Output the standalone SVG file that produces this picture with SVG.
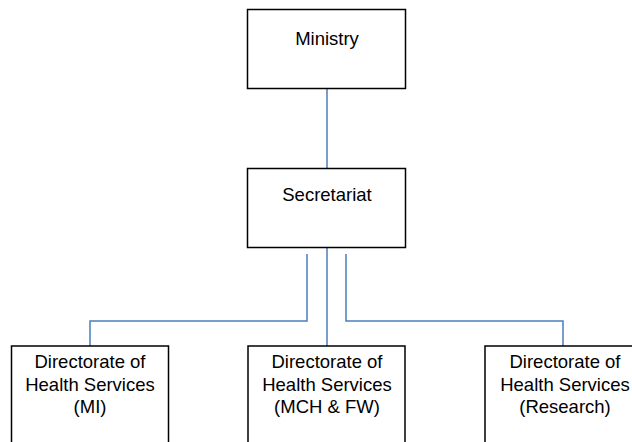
<svg xmlns="http://www.w3.org/2000/svg" width="632" height="442" viewBox="0 0 632 442">
<style>
.box{fill:#fff;stroke:#000;stroke-width:1.5}
.lbl{font-family:"Liberation Sans",Arial,sans-serif;font-size:18.5px;fill:#000;text-anchor:middle}
.con{fill:none;stroke:#4a7ebb;stroke-width:1.5}
</style>
<rect width="632" height="442" fill="#fff"/>
<g id="connectors">
<path class="con" d="M327 88V168"/>
<path class="con" d="M327 247V346"/>
<path class="con" d="M307 254V321H90V346"/>
<path class="con" d="M346 254V321H563V346"/>
</g>
<g id="ministry">
<rect class="box" x="247.5" y="9.5" width="158" height="79"/>
<text class="lbl" x="327" y="45">Ministry</text>
</g>
<g id="secretariat">
<rect class="box" x="247.5" y="168.5" width="158" height="79"/>
<text class="lbl" x="327" y="201">Secretariat</text>
</g>
<g id="dhs-mi">
<rect class="box" x="11.5" y="346" width="157" height="100"/>
<text class="lbl" x="90" y="368">Directorate of</text>
<text class="lbl" x="90" y="390.5">Health Services</text>
<text class="lbl" x="90" y="413">(MI)</text>
</g>
<g id="dhs-mch">
<rect class="box" x="248" y="346" width="157" height="100"/>
<text class="lbl" x="327" y="368">Directorate of</text>
<text class="lbl" x="327" y="390.5">Health Services</text>
<text class="lbl" x="327" y="413">(MCH &amp; FW)</text>
</g>
<g id="dhs-research">
<rect class="box" x="485" y="346" width="158" height="100"/>
<text class="lbl" x="565" y="368">Directorate of</text>
<text class="lbl" x="565" y="390.5">Health Services</text>
<text class="lbl" x="565" y="413">(Research)</text>
</g>
</svg>
